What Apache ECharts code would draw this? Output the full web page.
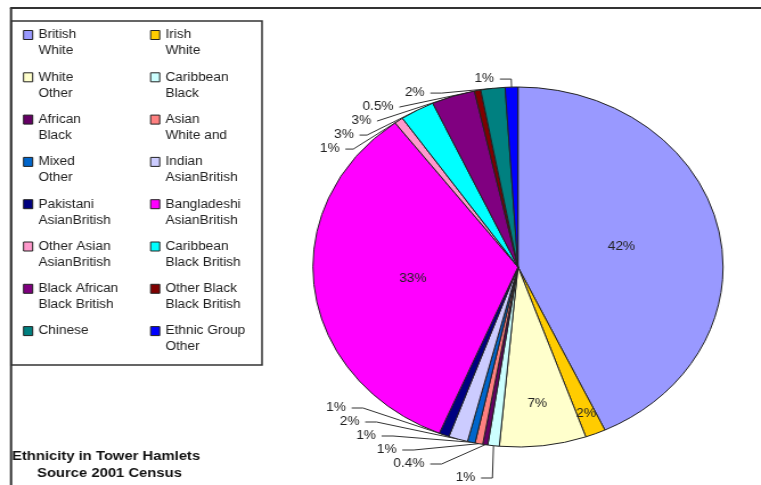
<!DOCTYPE html>
<html>
<head>
<meta charset="utf-8">
<script src="https://cdn.jsdelivr.net/npm/echarts@6/dist/echarts.min.js"></script>
<style>
html,body{margin:0;padding:0;background:#fff;overflow:hidden}
#wrap{width:761px;height:485px;overflow:hidden}
#c{width:668px;height:485px;transform:scaleX(1.1392);transform-origin:0 0}
</style>
</head>
<body>
<div id="wrap"><div id="c"></div></div>
<script>
const categories = ['British White','Irish White','White Other','Caribbean Black','African Black','Asian White and','Mixed Other','Indian AsianBritish','Pakistani AsianBritish','Bangladeshi AsianBritish','Other Asian AsianBritish','Caribbean Black British','Black African Black British','Other Black Black British','Chinese','Ethnic Group Other'];
const legendText = ['British\nWhite','Irish\nWhite','White\nOther','Caribbean\nBlack','African\nBlack','Asian\nWhite and','Mixed\nOther','Indian\nAsianBritish','Pakistani\nAsianBritish','Bangladeshi\nAsianBritish','Other Asian\nAsianBritish','Caribbean\nBlack British','Black African\nBlack British','Other Black\nBlack British','Chinese\n','Ethnic Group\nOther'];
const values = [42.9,1.6,6.8,0.9,0.4,0.6,0.6,1.5,0.8,33.4,0.7,2.7,3.4,0.5,1.9,1.0];
const labelText = ['42%','2%','7%','1%','0.4%','1%','1%','2%','1%','33%','1%','3%','3%','0.5%','2%','1%'];
const colors = ['#9999ff','#ffcc00','#ffffcc','#ccffff','#660066','#ff8080','#0066cc','#ccccff','#000080','#ff00ff','#ff99cc','#00ffff','#800080','#800000','#008080','#0000ff'];
const insideLabel = [true,true,true,false,false,false,false,false,false,true,false,false,false,false,false,false];
const insideRadiusFactor = {1:1.7, 2:1.48};

const center = [454.7, 267];
const nameMap = {};
categories.forEach((c,i)=>nameMap[c]=' \n'+legendText[i]);

const data = categories.map((c,i)=>({
  name:c, value:values[i],
  itemStyle:{color:colors[i]},
  label: insideLabel[i] ? {position:'inside', color:'#222'} : {position:'outside', color:'#222'},
  labelLine: {show: !insideLabel[i]}
}));

const legendBase = {
  orient:'vertical', icon:'rect', itemWidth:8, itemHeight:9, itemGap:-5.7, itemTextGap:5,
  formatter: n=>nameMap[n],
  textStyle:{fontFamily:'Liberation Sans, Arial', fontSize:12, color:'#222', lineHeight:16},
  itemStyle:{borderColor:'#222', borderWidth:1}
};

const chart = echarts.init(document.getElementById('c'), null, {renderer:'canvas'});
chart.setOption({
  animation:false,
  backgroundColor:'#fff',
  title:[
    {text:'Ethnicity in Tower Hamlets', left:10.5, top:450, padding:0, textStyle:{fontFamily:'Liberation Sans, Arial', fontSize:13, fontWeight:'bold', color:'#111'}},
    {text:'Source 2001 Census', left:32.5, top:467, padding:0, textStyle:{fontFamily:'Liberation Sans, Arial', fontSize:13, fontWeight:'bold', color:'#111'}}
  ],
  legend:[
    Object.assign({}, legendBase, {left:15.2, top:6, data:categories.filter((c,i)=>i%2===0)}),
    Object.assign({}, legendBase, {left:126.7, top:6, data:categories.filter((c,i)=>i%2===1)})
  ],
  graphic:[
    {type:'line', shape:{x1:8.8,y1:8,x2:668,y2:8}, style:{stroke:'#333', lineWidth:2}},
    {type:'line', shape:{x1:9.7,y1:8,x2:9.7,y2:485}, style:{stroke:'#333', lineWidth:2}},
    {type:'rect', shape:{x:9.7,y:21,width:220.3,height:344}, style:{fill:'none', stroke:'#333', lineWidth:1.5}}
  ],
  series:[{
    type:'pie', center:center, radius:[0,180], startAngle:90, clockwise:true,
    avoidLabelOverlap:true,
    itemStyle:{borderColor:'#222', borderWidth:1},
    label:{formatter:p=>labelText[p.dataIndex], fontFamily:'Liberation Sans, Arial', fontSize:12, color:'#222'},
    labelLine:{length:8, length2:10, lineStyle:{color:'#333', width:1}},
    labelLayout: function(p){
      const k = insideRadiusFactor[p.dataIndex];
      if (!k) return {};
      const lx = p.labelRect.x + p.labelRect.width/2;
      const ly = p.labelRect.y + p.labelRect.height/2;
      return {x: center[0] + (lx-center[0])*k, y: center[1] + (ly-center[1])*k};
    },
    data:data
  }]
});
</script>
</body>
</html>
